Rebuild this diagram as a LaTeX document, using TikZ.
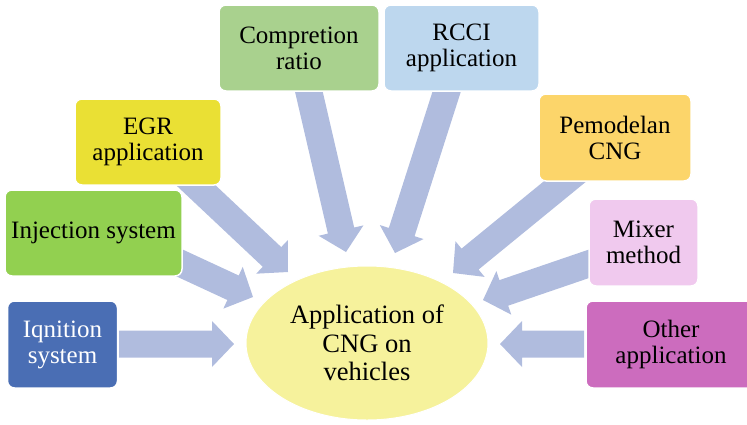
\documentclass[tikz,border=0pt]{standalone}
\usepackage{fontspec}
\setmainfont{Liberation Serif}
\usetikzlibrary{calc,shapes.geometric}

\definecolor{arrowcol}{HTML}{B0BCDE}
\definecolor{hubcol}{HTML}{F6F29C}
\definecolor{igncol}{HTML}{4A6EB4}
\definecolor{injcol}{HTML}{92D050}
\definecolor{egrcol}{HTML}{EAE034}
\definecolor{compcol}{HTML}{A9D18E}
\definecolor{rccicol}{HTML}{BDD7EE}
\definecolor{pemcol}{HTML}{FCD56A}
\definecolor{mixcol}{HTML}{F0C9EE}
\definecolor{othcol}{HTML}{CC6CBE}

\tikzset{
  box/.style={draw=white, line width=1.5pt, rounded corners=7pt, align=center,
    inner sep=0pt, font=\fontsize{25}{26}\selectfont},
  hub/.style={ellipse, fill=hubcol, draw=white, line width=1pt, inner sep=0pt,
    align=center, font=\fontsize{26.5}{28.5}\selectfont},
}

% wide block arrow from #1 to the tip #2
\newcommand\blockarrow[2]{%
  \coordinate (#1-#2-h) at ($(#2)!22pt!(#1)$);
  \fill[arrowcol]
    ($(#1)!13.5pt!90:(#2)$) -- ($(#1-#2-h)!13.5pt!90:(#2)$)
    -- ($(#1-#2-h)!23pt!90:(#2)$) -- (#2)
    -- ($(#1-#2-h)!23pt!-90:(#2)$) -- ($(#1-#2-h)!13.5pt!-90:(#2)$)
    -- ($(#1)!13.5pt!-90:(#2)$) -- cycle;
}

\begin{document}
\begin{tikzpicture}[x=1pt,y=-1pt]
\useasboundingbox (0,0) rectangle (747,424);

% arrow starts (under the boxes) and tips (at the hub)
\coordinate (ignS) at (119,344);  \coordinate (ignT) at (234,344);
\coordinate (othS) at (584,344);  \coordinate (othT) at (500,344);
\coordinate (injS) at (171,259);  \coordinate (injT) at (253,297);
\coordinate (egrS) at (186,176);  \coordinate (egrT) at (288,272);
\coordinate (compS) at (305,75);  \coordinate (compT) at (346,252);
\coordinate (rcciS) at (452,75);  \coordinate (rcciT) at (395,253);
\coordinate (pemS) at (579,170);  \coordinate (pemT) at (453,273);
\coordinate (mixS) at (600,260);  \coordinate (mixT) at (483,300);

\blockarrow{ignS}{ignT}
\blockarrow{othS}{othT}
\blockarrow{injS}{injT}
\blockarrow{egrS}{egrT}
\blockarrow{compS}{compT}
\blockarrow{rcciS}{rcciT}
\blockarrow{pemS}{pemT}
\blockarrow{mixS}{mixT}

\node[hub, minimum width=242pt, minimum height=154pt] (centre) at (367,343)
  {Application of\\CNG on\\vehicles};

\node[box, fill=igncol, text=white, minimum width=110pt, minimum height=87pt] (ign) at (62.5,344.5) {Iqnition\\system};
\node[box, fill=injcol, minimum width=177pt, minimum height=86pt] (inj) at (93.5,233) {Injection system};
\node[box, fill=egrcol, minimum width=146pt, minimum height=86pt] (egr) at (148,142) {EGR\\application};
\node[box, fill=compcol, minimum width=160pt, minimum height=86pt] (comp) at (299,48) {Compretion\\ratio};
\node[box, fill=rccicol, minimum width=155pt, minimum height=86pt] (rcci) at (461.5,48) {RCCI\\application};
\node[box, fill=pemcol, minimum width=152pt, minimum height=87pt] (pem) at (615,137.5) {Pemodelan\\CNG};
\node[box, fill=mixcol, minimum width=109pt, minimum height=87pt] (mix) at (643.5,242.5) {Mixer\\method};
\node[box, fill=othcol, minimum width=170pt, minimum height=87pt] (oth) at (671,344.5) {Other\\application};
\end{tikzpicture}
\end{document}
